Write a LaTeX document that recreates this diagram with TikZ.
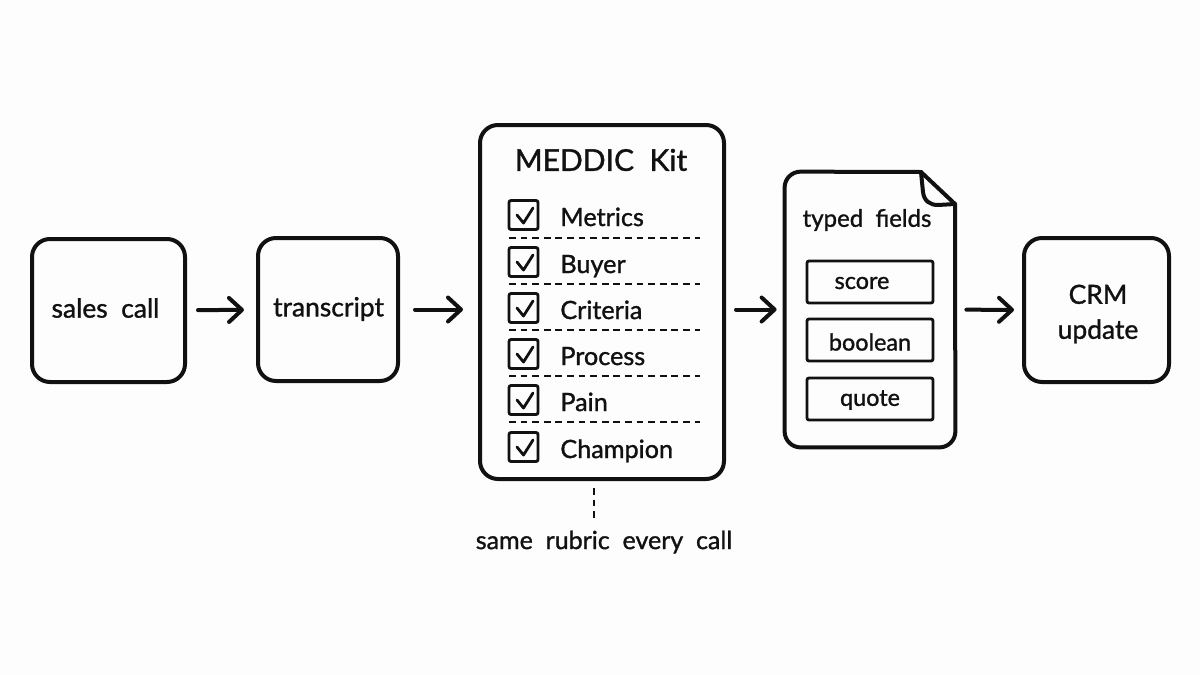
\documentclass[tikz,border=0pt]{standalone}
\usepackage{fontspec}
\setmainfont[WordSpace=2,FakeBold=1.2]{Lato}
\usetikzlibrary{arrows.meta,calc}
\definecolor{ink}{HTML}{111111}
\definecolor{paper}{HTML}{FDFDFD}
\def\heavyline{2pt}
\def\lightline{1.4pt}
\tikzset{
  flowbox/.style={draw=ink, line width=\heavyline, rounded corners=9pt, inner sep=0pt},
  boxtext/.style={inner sep=0pt, align=center, font=\fontsize{13.2}{17.5}\selectfont, text=ink},
  fieldbox/.style={draw=ink, line width=\lightline, rounded corners=1pt, minimum width=63pt, minimum height=21pt, inner sep=0pt},
  fieldtext/.style={inner sep=0pt, font=\fontsize{11.7}{14}\selectfont, text=ink},
  tickbox/.style={draw=ink, line width=\lightline, rounded corners=1pt, minimum size=14.5pt, inner sep=0pt},
  rowlabel/.style={anchor=base west, inner sep=0pt, font=\fontsize{12.6}{16}\selectfont, text=ink},
  flow/.style={draw=ink, line width=\heavyline, line cap=round, -{Straight Barb[length=6.5pt,width=12pt,line width=\heavyline,round]}},
  divider/.style={draw=ink, line width=0.8pt, dash pattern=on 3.4pt off 2.4pt},
}
\begin{document}
\begin{tikzpicture}[x=0.5pt,y=-0.5pt]
  \fill[paper] (0,0) rectangle (1200,675);
  \useasboundingbox (0,0) rectangle (1200,675);

  % the boxes of the flow
  \node[flowbox, minimum width=76.5pt, minimum height=71.5pt] (call) at (108.5,310.5) {};
  \node[boxtext] (calltext) at (105.5,308) {sales call};
  \node[flowbox, minimum width=70pt, minimum height=71.5pt] (transcript) at (328,309.5) {};
  \node[boxtext] (transcripttext) at (328.5,309) {transcript};
  \node[flowbox, minimum width=122pt, minimum height=177pt] (kit) at (602,302) {};
  \node[minimum width=85pt, minimum height=137.5pt, inner sep=0pt] (doc) at (870,309.5) {};
  \node[flowbox, minimum width=72.5pt, minimum height=72pt] (crm) at (1096.5,310) {};
  \node[boxtext] (crmtext) at (1098,314) {CRM\\update};

  % kit contents
  \node[inner sep=0pt, font=\fontsize{15}{20}\selectfont, text=ink] (kittitle) at (601,160) {MEDDIC Kit};
  \foreach \y/\name/\lab in {215/metrics/Metrics, 262/buyer/Buyer, 308/criteria/Criteria, 354/process/Process, 400/pain/Pain, 447/champion/Champion}
  {
    \node[tickbox] (box\name) at (523.5,\y) {};
    \node[rowlabel] (lab\name) at (560,\y+11) {\lab};
    \draw[ink, line width=\lightline, line cap=round, line join=round] ($(box\name)+(-6.5,0)$) -- ($(box\name)+(0,8)$) -- ($(box\name)+(9.5,-7)$);
  }
  \foreach \y in {238,284,330,376,422}
    \draw[divider] (509,\y) -- (700,\y);

  % typed fields document
  \draw[ink, line width=\heavyline, line join=round, rounded corners=8pt]
    (921,172) -- (doc.north west) -- (doc.south west) -- (doc.south east) -- (955,204);
  \draw[ink, line width=\heavyline, line join=round, line cap=round] (921,172) -- (955,204);
  \draw[ink, line width=\heavyline, line join=round, line cap=round] (921,172) -- (923,192) .. controls (924,201) and (930,205) .. (938,205) -- (955,204);
  \node[inner sep=0pt, font=\fontsize{12}{16}\selectfont, text=ink] (doctitle) at (867,220) {typed fields};
  \node[fieldbox] (score) at (870,282) {};
  \node[fieldbox] (boolean) at (870,340) {};
  \node[fieldbox] (quote) at (870,399) {};
  \node[fieldtext] (scoretext) at (862,283) {score};
  \node[fieldtext] (booleantext) at (870,342) {boolean};
  \node[fieldtext] (quotetext) at (870,400) {quote};

  % connectors
  \draw[flow, shorten <=5.5pt, shorten >=6pt] (call) -- (transcript);
  \draw[flow, shorten <=7.5pt, shorten >=7.5pt] (transcript) -- (transcript -| kit.west);
  \draw[flow, shorten <=5pt, shorten >=4pt] (kit.east |- doc) -- (doc);
  \draw[flow, shorten <=5.5pt, shorten >=4pt] (doc) -- (crm);

  % note below the kit
  \node[inner sep=0pt, font=\fontsize{12.5}{16}\selectfont, text=ink] (rubric) at (604,542) {same rubric every call};
  \coordinate (rubrictop) at (594,522);
  \draw[divider, line width=1pt] (594,488) -- (rubrictop);
\end{tikzpicture}
\end{document}
